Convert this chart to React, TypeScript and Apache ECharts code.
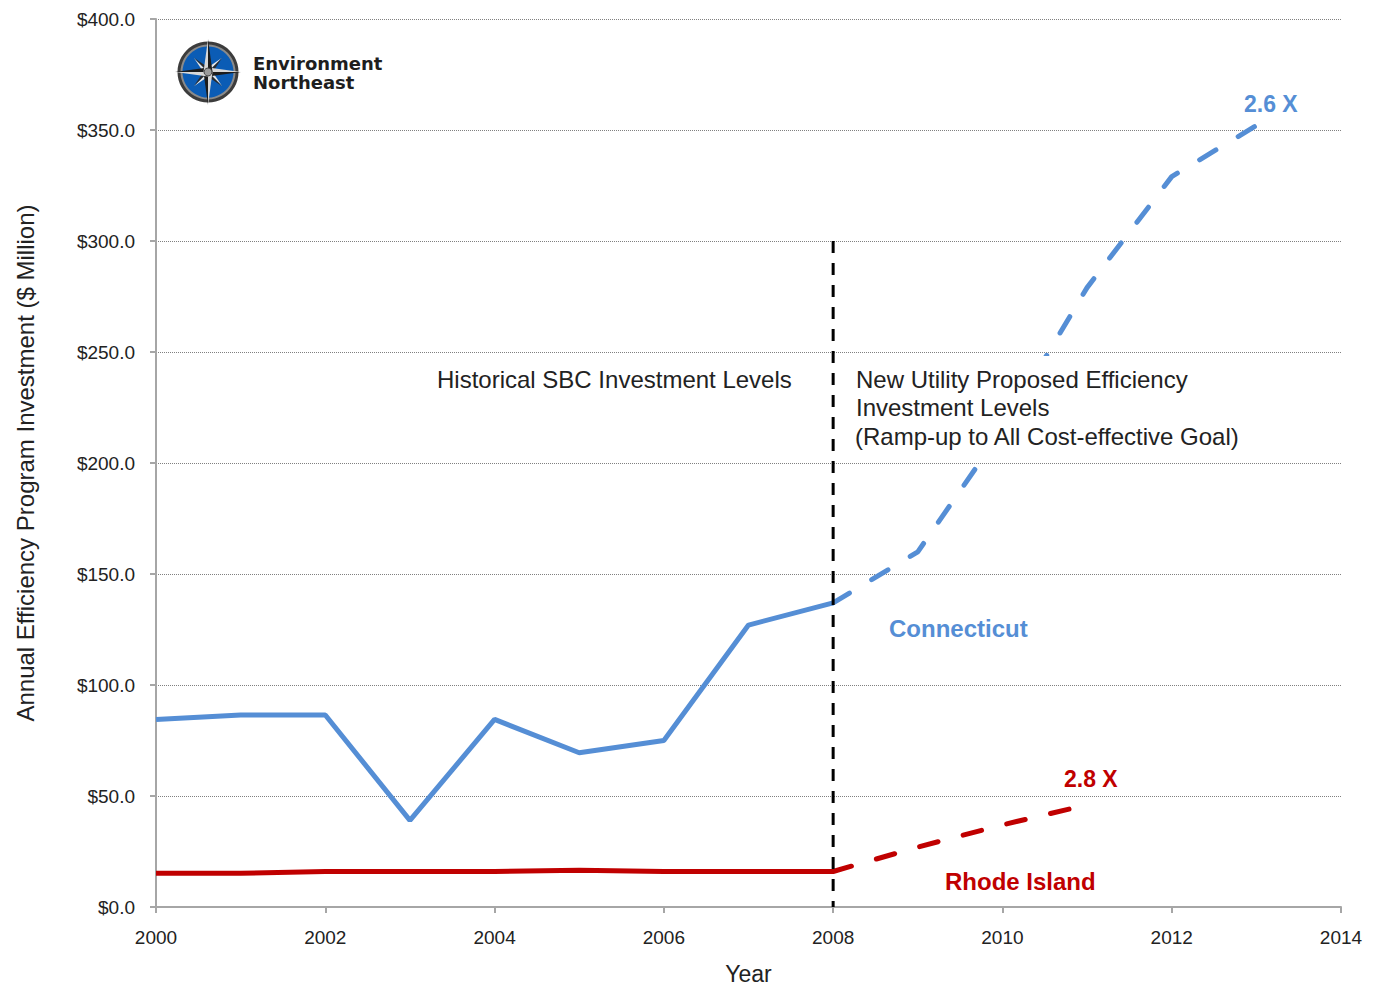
import React, { useEffect, useRef } from "react";
import * as echarts from "echarts";

const historyYears = [2000, 2001, 2002, 2003, 2004, 2005, 2006, 2007, 2008];
const proposedYears = [2008, 2009, 2010, 2011, 2012, 2013];
const ctHistory = [84.5, 86.5, 86.5, 39, 84.5, 69.5, 75, 127, 137];
const ctProposed = [137, 160, 215, 279, 329, 352];
const riHistory = [15.2, 15.2, 16, 16, 16, 16.5, 16, 16, 16];
const riProposed = [16, 27, 37, 46];
const dividerYear = 2008;
const dividerTop = 300;

const FONT = '"Liberation Sans", Arial, sans-serif';
const INK = "#222222";
const BLUE = "#558ed5";
const RED = "#c00000";

const pairs = (xs: number[], ys: number[]) => ys.map((y, i) => [xs[i], y]);

// One compass point: two facets around its long axis, one lit and one dark.
function spike(cx: number, cy: number, deg: number, len: number, half: number, lit: string, dark: string) {
  const a = (deg * Math.PI) / 180;
  const tip = [cx + Math.cos(a) * len, cy + Math.sin(a) * len];
  const l = [cx + Math.cos(a - Math.PI / 2) * half, cy + Math.sin(a - Math.PI / 2) * half];
  const r = [cx + Math.cos(a + Math.PI / 2) * half, cy + Math.sin(a + Math.PI / 2) * half];
  return [
    { type: "polygon", shape: { points: [[cx, cy], tip, l] }, style: { fill: lit } },
    { type: "polygon", shape: { points: [[cx, cy], tip, r] }, style: { fill: dark } },
  ];
}

function logo() {
  const cx = 208;
  const cy = 72;
  const parts: any[] = [
    { type: "circle", shape: { cx, cy, r: 30.5 }, style: { fill: "#3c3c3c" } },
    { type: "circle", shape: { cx, cy, r: 27.5 }, style: { fill: "#8a8a8a" } },
    { type: "circle", shape: { cx, cy, r: 25.5 }, style: { fill: "#0b5cb5" } },
  ];
  [45, 135, 225, 315].forEach((d) => parts.push(...spike(cx, cy, d, 20, 4, "#e4e4e4", "#2a2a2a")));
  [0, 90, 180, 270].forEach((d) => parts.push(...spike(cx, cy, d, 33, 4.5, "#d8d8d8", "#1c1c1c")));
  parts.push({ type: "circle", shape: { cx, cy, r: 4 }, style: { fill: "#9a9a9a", stroke: "#444", lineWidth: 1 } });
  return parts;
}

const label = (text: string, x: number, y: number, fontSize: number, fill: string, extra: any = {}) => ({
  type: "text",
  x,
  y,
  z: 110,
  style: { text, fontFamily: FONT, fontSize, fill, textVerticalAlign: "middle", ...extra },
});

export default function App() {
  const ref = useRef<HTMLDivElement>(null);

  useEffect(() => {
    const chart = echarts.init(ref.current!, null, { renderer: "svg" });
    chart.setOption({
      animation: false,
      backgroundColor: "#ffffff",
      grid: { left: 156, right: 38, top: 19, bottom: 78 },
      xAxis: {
        type: "value",
        min: 2000,
        max: 2014,
        interval: 2,
        name: "Year",
        nameLocation: "middle",
        nameGap: 55,
        nameTextStyle: { fontFamily: FONT, fontSize: 23, color: INK },
        axisLine: { lineStyle: { color: "#a6a6a6", width: 2 } },
        axisTick: { length: 6, lineStyle: { color: "#a6a6a6", width: 2 } },
        axisLabel: { margin: 21, fontFamily: FONT, fontSize: 19, color: INK, formatter: (v: number) => String(v) },
        splitLine: { show: false },
      },
      yAxis: {
        type: "value",
        min: 0,
        max: 400,
        interval: 50,
        name: "Annual Efficiency Program Investment ($ Million)",
        nameLocation: "middle",
        nameGap: 119,
        nameTextStyle: { fontFamily: FONT, fontSize: 24, color: INK },
        axisLine: { show: true, lineStyle: { color: "#a6a6a6", width: 2 } },
        axisTick: { show: true, length: 6, lineStyle: { color: "#a6a6a6", width: 2 } },
        axisLabel: { margin: 21, fontFamily: FONT, fontSize: 19, color: INK, formatter: (v: number) => "$" + v.toFixed(1) },
        splitLine: { lineStyle: { color: "#808080", width: 1, type: [1, 1] } },
      },
      series: [
        {
          name: "Connecticut",
          type: "line",
          data: pairs(historyYears, ctHistory),
          showSymbol: false,
          lineStyle: { color: BLUE, width: 5 },
          z: 3,
        },
        {
          name: "Connecticut proposed",
          type: "line",
          data: pairs(proposedYears, ctProposed),
          showSymbol: false,
          lineStyle: { color: BLUE, width: 5, type: [19, 26], cap: "round" },
          z: 3,
        },
        {
          name: "Rhode Island",
          type: "line",
          data: pairs(historyYears, riHistory),
          showSymbol: false,
          lineStyle: { color: RED, width: 5 },
          z: 3,
        },
        {
          name: "Rhode Island proposed",
          type: "line",
          data: pairs(proposedYears, riProposed),
          showSymbol: false,
          lineStyle: { color: RED, width: 5, type: [19, 26], cap: "round" },
          z: 3,
        },
        {
          name: "Divider",
          type: "line",
          data: [[dividerYear, dividerTop], [dividerYear, 0]],
          showSymbol: false,
          lineStyle: { color: "#000000", width: 3, type: [12, 10] },
          z: 4,
        },
      ],
      graphic: [
        // The annotation sits on an opaque box that interrupts the curve behind it.
        { type: "rect", z: 100, shape: { x: 848, y: 356, width: 407, height: 101 }, style: { fill: "#ffffff" } },
        label("Historical SBC Investment Levels", 437, 379, 24, INK),
        label("New Utility Proposed Efficiency", 856, 379, 24, INK),
        label("Investment Levels", 856, 407, 24, INK),
        label("(Ramp-up to All Cost-effective Goal)", 855, 436, 24, INK),
        label("Connecticut", 889, 628, 24, BLUE, { fontWeight: "bold" }),
        label("Rhode Island", 945, 881, 24, RED, { fontWeight: "bold" }),
        label("2.6 X", 1244, 104, 23, BLUE, { fontWeight: "bold" }),
        label("2.8 X", 1064, 779, 23, RED, { fontWeight: "bold" }),
        { type: "group", z: 105, children: logo() },
        label("Environment", 253, 63, 18, "#1e1e1e", { fontFamily: '"DejaVu Sans", sans-serif', fontWeight: "bold" }),
        label("Northeast", 253, 82, 18, "#1e1e1e", { fontFamily: '"DejaVu Sans", sans-serif', fontWeight: "bold" }),
      ],
    });
    return () => chart.dispose();
  }, []);

  return <div ref={ref} style={{ position: "absolute", left: 0, top: 0, width: 1379, height: 990 }} />;
}
